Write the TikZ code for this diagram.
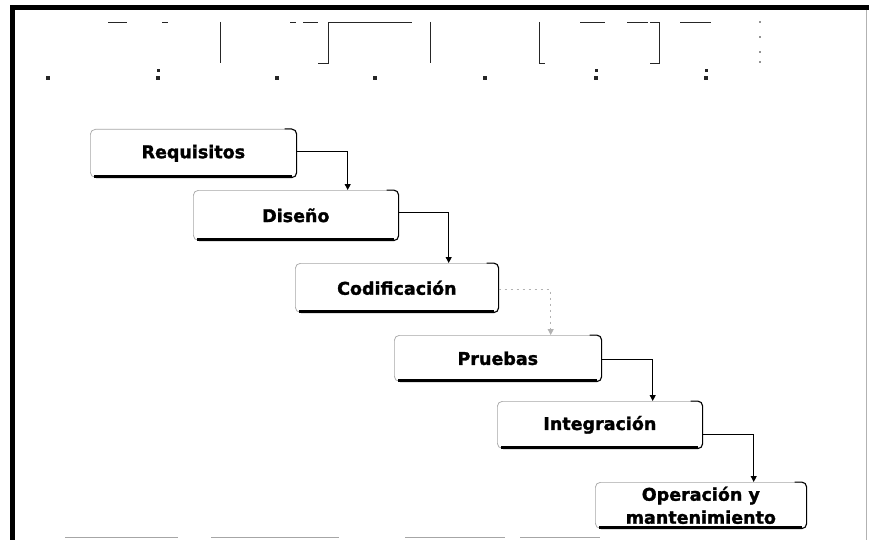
\documentclass[tikz,border=0pt]{standalone}
\usepackage{fontspec}
\setmainfont{DejaVu Sans}
\newfontfamily\phasefont[FakeBold=1.6]{DejaVu Sans}
\usetikzlibrary{arrows.meta}
\begin{document}
\begin{tikzpicture}[x=1pt,y=-1pt,
  phase/.style={anchor=north west, inner sep=0pt, draw=black!35, line width=0.7pt,
    rounded corners=5pt, fill=white, align=center,
    font=\phasefont\bfseries\fontsize{17.5}{23}\selectfont},
  flow/.style={draw=black, line width=0.9pt, -{Triangle[length=6pt,width=6pt]}},
  faintflow/.style={draw=black!30, line width=0.8pt, dash pattern=on 2pt off 4pt,
    -{Triangle[length=6pt,width=6pt]}},
  ghost/.style={line width=0.9pt, draw=black!85},
  rim/.style={line width=1pt, rounded corners=5pt},
  base/.style={line width=2.6pt},
  speck/.style={fill=black!85},
  edge rule/.style={draw=black!35, line width=0.8pt},
]
\useasboundingbox (0,0) rectangle (869,540);
\fill[white] (0,0) rectangle (869,540);

% outer frame
\fill[black] (10,5) rectangle (869,10);
\fill[black] (10,5) rectangle (15,540);
\draw[black!30, line width=0.5pt] (866,10) -- (866,540);
\foreach \a/\b in {65/178, 211/339, 405/505, 520/600}
  \draw[edge rule] (\a,537) -- (\b,537);

% timeline strip at the top
\draw[ghost] (220,22) -- (220,63);
\draw[ghost] (318,63) -- (328,63) -- (328,22) -- (412,22);
\draw[ghost] (430,22) -- (430,63);
\draw[ghost] (539,22) -- (539,63) -- (545,63);
\draw[ghost] (650,22) -- (659,22) -- (659,63) -- (650,63);
\foreach \a/\b in {108/127, 162/168, 290/296, 303/318, 580/605, 627/648, 680/711}
  \draw[ghost] (\a,22) -- (\b,22);
\foreach \x in {48, 158, 277, 375, 485, 596, 706}
  \fill[speck] (\x-2,76) rectangle (\x+2,80);
\foreach \x in {158, 596, 706}
  \fill[speck] (\x-1.5,69) rectangle (\x+1.5,72);
\foreach \y in {22, 37, 52, 62}
  \fill[speck] (760,\y) circle (0.8);

% phases
\node[phase, minimum width=206pt, minimum height=48pt] (req) at (90,129) {Requisitos};
\node[phase, minimum width=205pt, minimum height=50pt] (dis) at (193,190) {Diseño};
\node[phase, minimum width=203pt, minimum height=49pt] (cod) at (295,263) {Codificación};
\node[phase, minimum width=207pt, minimum height=46pt] (pru) at (394,335) {Pruebas};
\node[phase, minimum width=205pt, minimum height=47pt] (int) at (497,401) {Integración};
\node[phase, minimum width=211pt, minimum height=46pt] (ope) at (595,482) {Operación y\\mantenimiento};

% darker right and bottom edges of every phase
\foreach \n in {req,dis,cod,pru,int,ope} {
  \draw[rim] ([xshift=-12pt]\n.north east) -| (\n.south east) -- ([xshift=6pt]\n.south west);
  \draw[base] ([xshift=4pt,yshift=1pt]\n.south west) -- ([xshift=-5pt,yshift=1pt]\n.south east);
}

% flow between phases
\draw[flow] ([yshift=2pt]req.east) -| ([xshift=-51pt]dis.north east);
\draw[flow] ([yshift=3pt]dis.east) -| ([xshift=-50pt]cod.north east);
\draw[faintflow] ([yshift=-2pt]cod.east) -| ([xshift=-51pt]pru.north east);
\draw[flow] ([yshift=-1pt]pru.east) -| ([xshift=-50pt]int.north east);
\draw[flow] ([yshift=-10pt]int.east) -| ([xshift=-53pt]ope.north east);
\end{tikzpicture}
\end{document}
